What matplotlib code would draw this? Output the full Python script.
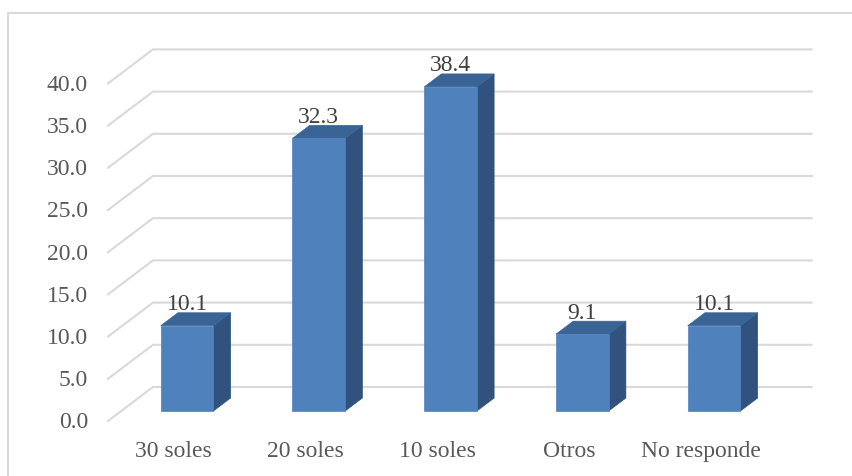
import matplotlib
matplotlib.use("Agg")
import matplotlib.pyplot as plt
from matplotlib.patches import Polygon
from matplotlib.transforms import IdentityTransform
import numpy as np

categories = ["30 soles", "20 soles", "10 soles", "Otros", "No responde"]
values = [10.1, 32.3, 38.4, 9.1, 10.1]
yticks = [0, 5, 10, 15, 20, 25, 30, 35, 40]
ytick_labels = ["0.0", "5.0", "10.0", "15.0", "20.0", "25.0", "30.0", "35.0", "40.0"]

W, H = 853, 477
fig = plt.figure(figsize=(W / 100, H / 100), dpi=100)
fig.patch.set_facecolor("white")

# axes = front plane of the bars
ax = fig.add_axes([121.2 / W, (H - 412) / H, 658.75 / W, 337.6 / H])
ax.set_xlim(-0.5, len(categories) - 0.5)
ax.set_ylim(0, 40)
ax.axis("off")

font = "Liberation Serif"
tick_color = "#595959"
label_color = "#404040"
grid_color = "#D9D9D9"
front_c = "#4F81BD"
top_c = "#3B6496"
side_c = "#30527D"
fs = 17

# oblique projection: depth t, 0 = front edge, 1 = back wall; bars at tb..te
DX, DY = 45.0, 34.0
tb, te = 0.294, 0.676
bw = 0.40


def proj(x, v, t):
    px, py = ax.transData.transform((x, v))
    return (px + (t - tb) * DX, py + (t - tb) * DY)


ident = IdentityTransform()

# gridlines: side diagonal + back wall line
for v, lab in zip(yticks, ytick_labels):
    a = proj(-0.5, v, 0.0)
    b = proj(-0.5, v, 1.0)
    c = proj(len(categories) - 0.5, v, 1.0)
    fig.add_artist(plt.Line2D([a[0], b[0], c[0]], [a[1], b[1], c[1]],
                              transform=ident, color=grid_color, lw=1.5, zorder=1))
    fig.text(a[0] - 20, a[1] - 1, lab, transform=ident, ha="right", va="center",
             fontsize=fs, family=font, color=tick_color)

# bars
for i, v in enumerate(values):
    x0, x1 = i - bw / 2, i + bw / 2
    front = [proj(x0, 0, tb), proj(x1, 0, tb), proj(x1, v, tb), proj(x0, v, tb)]
    top = [proj(x0, v, tb), proj(x1, v, tb), proj(x1, v, te), proj(x0, v, te)]
    side = [proj(x1, 0, tb), proj(x1, 0, te), proj(x1, v, te), proj(x1, v, tb)]
    for pts, col in ((side, side_c), (top, top_c), (front, front_c)):
        fig.add_artist(Polygon(pts, closed=True, transform=ident, facecolor=col,
                               edgecolor=col, lw=0.5, zorder=3))
    fx, _ = proj(i, v, tb)
    _, ly = proj(i, v, te)
    fig.text(fx, ly + 9, f"{v:.1f}", transform=ident, ha="center", va="center",
             fontsize=fs, family=font, color=label_color, zorder=4)
    cx, cy = proj(i, 0, 0.0)
    fig.text(cx, cy - 30, categories[i], transform=ident, ha="center", va="center",
             fontsize=fs, family=font, color=tick_color)

# outer chart frame (top and left edges visible)
fig.add_artist(plt.Line2D([8, 8, W], [0, H - 14, H - 14], transform=ident,
                          color=grid_color, lw=1.5))

fig.savefig("out.png", dpi=100, facecolor="white")
